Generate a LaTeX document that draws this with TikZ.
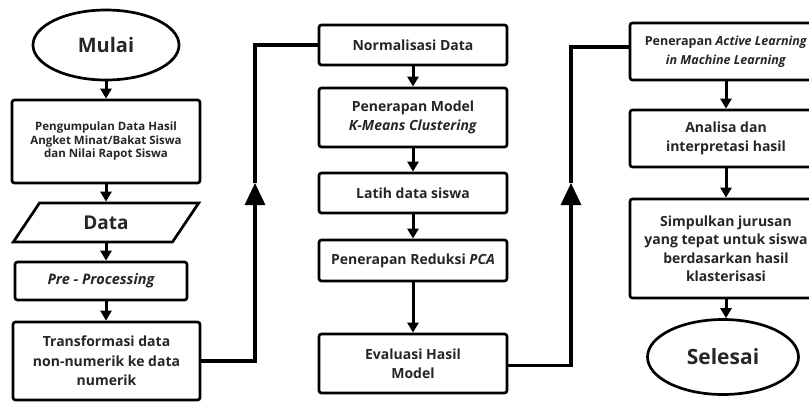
\documentclass[tikz,border=0pt]{standalone}
\usepackage{fontspec}
\setmainfont{Open Sans}
\usetikzlibrary{arrows.meta,shapes.geometric}
\begin{document}
\begin{tikzpicture}[x=1pt,y=-1pt,
  box/.style={draw, line width=2.7pt, rounded corners=2.5pt, align=center, inner sep=0pt, text=black!85},
  term/.style={ellipse, draw, line width=2.7pt, inner sep=0pt, text=black!85},
  flow/.style={line width=3pt, -{Triangle[length=10pt,width=11pt]}},
  bigflow/.style={line width=3.2pt, -{Triangle[length=22pt,width=20pt]}},
  plain/.style={line width=3.2pt},
  fA/.style={font=\fontsize{14}{19.5}\selectfont\bfseries},
  fS/.style={font=\fontsize{11.5}{13.5}\selectfont\bfseries},
  fR/.style={font=\fontsize{14}{18.5}\selectfont\bfseries}
]
\clip (0,0) rectangle (809,402);
\fill[white] (0,0) rectangle (809,402);

% left column
\node[term, minimum width=146pt, minimum height=70pt, font=\fontsize{20}{24}\selectfont\bfseries] (mulai) at (106,45) {Mulai};
\node[box, minimum width=188pt, minimum height=83pt, fS] (kumpul) at (106,141.5) {Pengumpulan Data Hasil\\Angket Minat/Bakat Siswa\\dan Nilai Rapot Siswa};
\node[trapezium, trapezium left angle=57, trapezium right angle=123, trapezium stretches=true, draw, line width=2.7pt, inner sep=0pt, text=black!85, minimum width=186pt, minimum height=39pt, font=\fontsize{19}{22}\selectfont\bfseries] (data) at (106,222.5) {Data};
\node[box, minimum width=172pt, minimum height=38pt, font=\fontsize{14.5}{18}\selectfont\bfseries\itshape] (pre) at (101,281) {Pre - Processing};
\node[box, minimum width=187pt, minimum height=78pt, fA] (trans) at (106.5,361) {Transformasi data\\non-numerik ke data\\numerik};

% middle column
\node[box, minimum width=188pt, minimum height=40pt, fA] (norm) at (413,45) {Normalisasi Data};
\node[box, minimum width=188pt, minimum height=59pt, fA] (model) at (413,117.5) {Penerapan Model\\\textit{K-Means Clustering}};
\node[box, minimum width=188pt, minimum height=40pt, fA] (latih) at (413,193) {Latih data siswa};
\node[box, minimum width=188pt, minimum height=41pt, fA] (pca) at (413,260.5) {Penerapan Reduksi \textit{PCA}};
\node[box, minimum width=188pt, minimum height=59pt, fA] (eval) at (413,363.5) {Evaluasi Hasil\\Model};

% right column
\node[box, minimum width=192pt, minimum height=57pt, font=\fontsize{12.5}{19}\selectfont\bfseries] (act) at (726,51.5) {Penerapan \textit{Active Learning}\\\textit{in Machine Learning}};
\node[box, minimum width=192pt, minimum height=57pt, fR] (ana) at (726,138.5) {Analisa dan\\interpretasi hasil};
\node[box, minimum width=192pt, minimum height=99pt, fR] (simp) at (726,248.5) {Simpulkan jurusan\\yang tepat untuk siswa\\berdasarkan hasil\\klasterisasi};
\node[term, minimum width=151pt, minimum height=75pt, font=\fontsize{21}{24}\selectfont\bfseries] (selesai) at (723,357) {Selesai};

% connectors
\draw[flow] (mulai.south) -- (mulai.south |- kumpul.north);
\draw[flow] (kumpul.south) -- (kumpul.south |- data.north);
\draw[flow] (data.south) -- (data.south |- pre.north);
\draw[flow] (data.south |- pre.south) -- (data.south |- trans.north);

\draw[flow] (norm) -- (model);
\draw[flow] (model) -- (latih);
\draw[flow] (latih) -- (pca);
\draw[flow] (pca) -- (eval);

\draw[flow] (act) -- (ana);
\draw[flow] (ana) -- (simp);
\draw[flow] (simp.south) -- (simp.south |- selesai.north);

\coordinate (m1) at (255,183);
\draw[bigflow] (trans.east) -| (m1);
\draw[plain] (m1) |- (norm.west);

\coordinate (m2) at (571,183);
\draw[bigflow] ([yshift=-2pt]eval.east) -| (m2);
\draw[plain] (m2) |- ([yshift=4.5pt]act.west);
\end{tikzpicture}
\end{document}
